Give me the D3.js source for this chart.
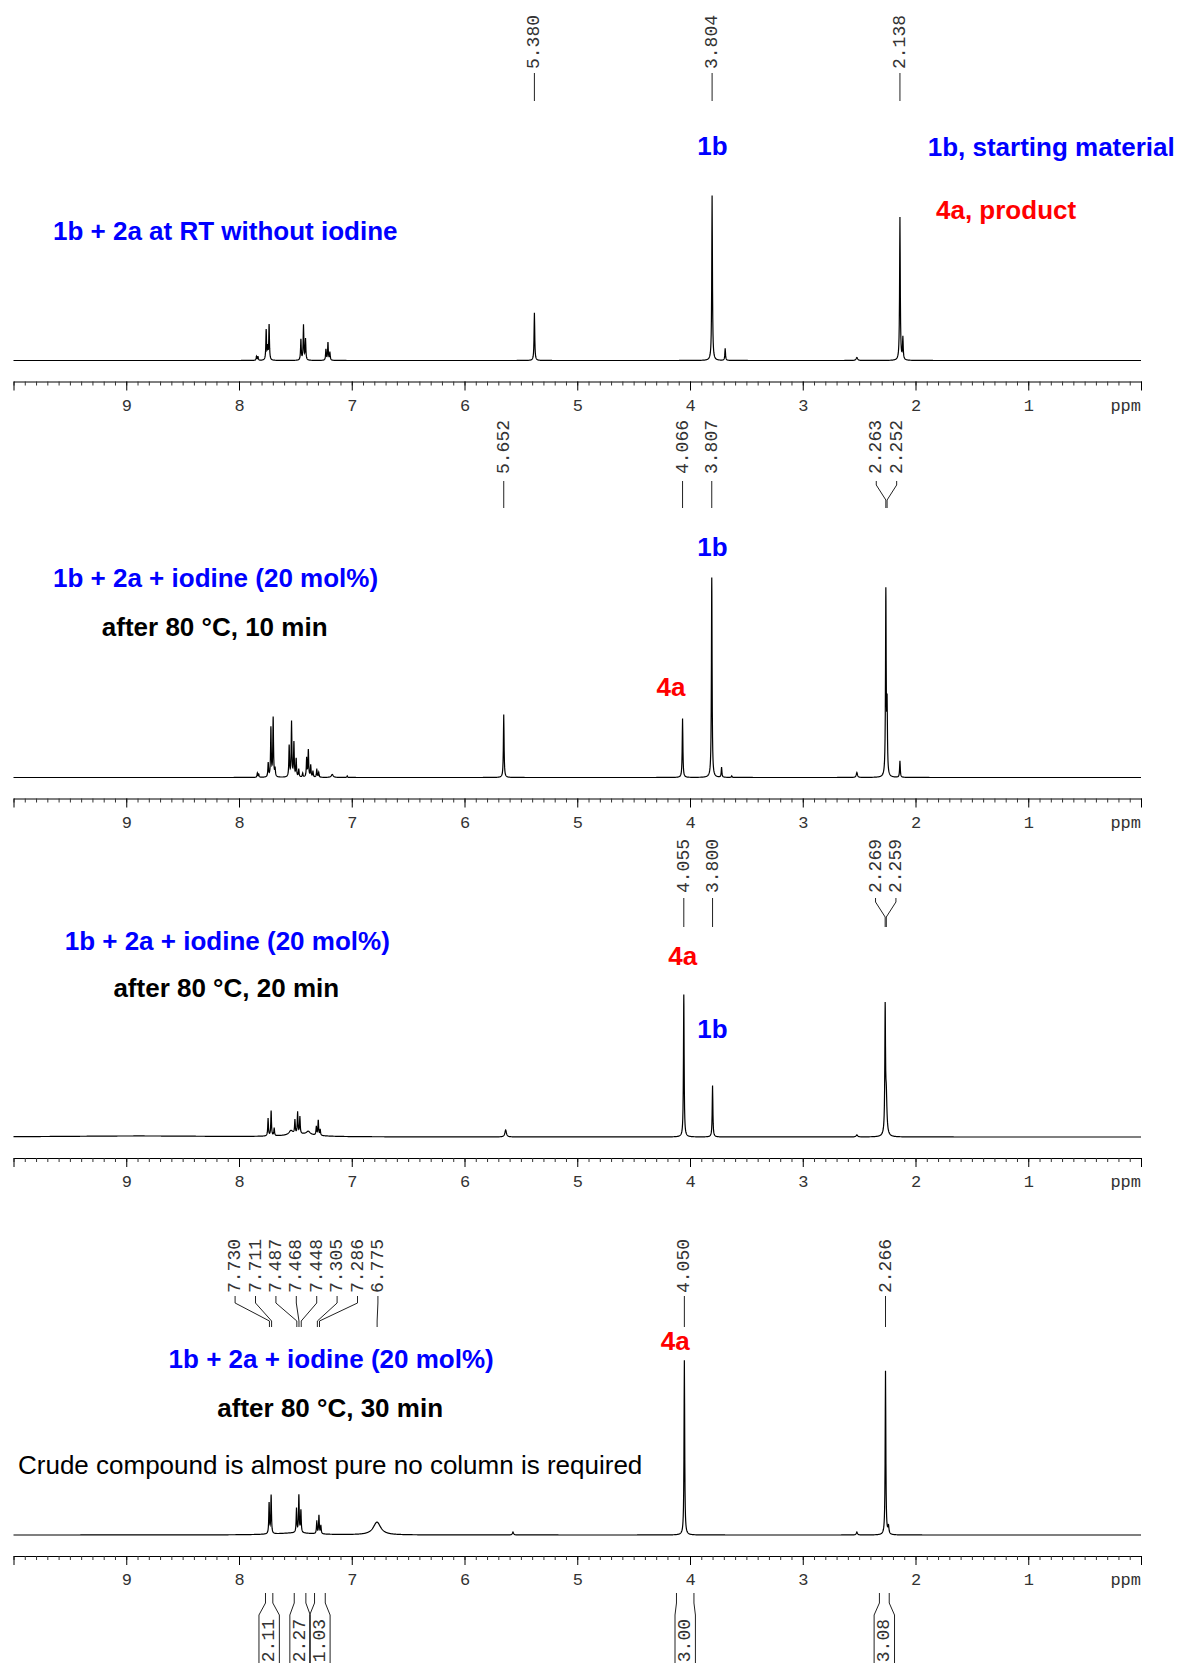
<!DOCTYPE html>
<html>
<head>
<meta charset="utf-8">
<script src="https://cdn.jsdelivr.net/npm/d3@7"></script>
<style>
  body { margin: 0; background: #fff; }
  svg { display: block; }
</style>
</head>
<body>
<script>
// ppm axis
var majorTicks = [0, 1, 2, 3, 4, 5, 6, 7, 8, 9, 10];
var tickLabels = ['', '1', '2', '3', '4', '5', '6', '7', '8', '9', ''];

// peaks: [ppm, height, half width (optional)]
var peaks1 = [
  [7.845, 4], [7.832, 4], [7.759, 30], [7.746, 12], [7.733, 35],
  [7.451, 20.7], [7.428, 35], [7.41, 21],
  [7.229, 11], [7.211, 17.7], [7.194, 8],
  [5.380, 47.7], [3.804, 165], [3.688, 12], [2.52, 3, 0.008],
  [2.138, 143], [2.112, 22.3]
];
var peaks2 = [
  [7.837, 4.3], [7.825, 3], [7.741, 14], [7.717, 49], [7.697, 59], [7.68, 8],
  [7.555, 31], [7.534, 55], [7.513, 34], [7.493, 18], [7.47, 8], [7.435, 4],
  [7.40, 19], [7.385, 27], [7.364, 12], [7.344, 6], [7.31, 8], [7.293, 5],
  [7.173, 3, 0.01], [7.04, 1.5], [5.652, 63], [4.066, 59], [3.807, 200],
  [3.72, 10], [3.63, 1.5], [2.52, 5, 0.006], [2.263, 184], [2.252, 67], [2.138, 16.5]
];
var peaks3 = [
  [8.9, 1, 0.8], [7.45, 2.5, 0.15],
  [7.742, 17.7], [7.715, 25], [7.688, 7.7], [7.539, 4.3, 0.02],
  [7.504, 13.7], [7.48, 21.7], [7.46, 17], [7.386, 3.3, 0.02],
  [7.314, 8.7], [7.297, 15], [7.28, 6], [5.635, 7, 0.008],
  [4.055, 142.5], [3.800, 51.4], [2.52, 2, 0.008],
  [2.269, 119.6], [2.259, 30, 0.006], [2.262, 10, 0.012]
];
var peaks4 = [
  [7.5, 2, 0.2], [7.733, 30.7], [7.715, 38.3], [7.49, 24.3], [7.469, 37.3], [7.451, 22.3],
  [7.31, 12.3], [7.291, 18.3], [7.274, 8.3], [6.776, 12.7, 0.04], [5.57, 3, 0.006],
  [4.050, 174.8], [2.52, 3, 0.006], [2.266, 164], [2.24, 8, 0.005]
];

// picked peak labels
var picked1 = [5.380, 3.804, 2.138];
var picked2 = [5.652, 4.066, 3.807, 2.263, 2.252];
var picked3 = [4.055, 3.800, 2.269, 2.259];
var picked4 = [7.730, 7.711, 7.487, 7.468, 7.448, 7.305, 7.286, 6.775, 4.050, 2.266];

// integrals of the last trace
var integFrom = [7.765, 7.51, 7.33, 4.12, 2.32];
var integTo = [7.70, 7.407, 7.235, 3.965, 2.233];
var integValues = ['2.11', '2.27', '1.03', '3.00', '3.08'];

var titles = ['1b + 2a at RT without iodine', '1b + 2a + iodine (20 mol%)',
  '1b + 2a + iodine (20 mol%)', '1b + 2a + iodine (20 mol%)'];
var conditions = ['', 'after 80 °C, 10 min', 'after 80 °C, 20 min', 'after 80 °C, 30 min'];
var note = 'Crude compound is almost pure no column is required';

var width = 1180, height = 1663;
var blue = '#0000ff', red = '#ff0000';

var svg = d3.select('body').append('svg')
  .attr('width', width)
  .attr('height', height);

var x = d3.scaleLinear().domain([10, 0]).range([13.5, 1141]);

var panels = [
  { peaks: peaks1, picked: picked1, base: 360.5, labelBottom: 69, conn: [73, 77, 93, 101] },
  { peaks: peaks2, picked: picked2, base: 777.5, labelBottom: 474, conn: [481, 485, 500, 508] },
  { peaks: peaks3, picked: picked3, base: 1137, labelBottom: 893, conn: [898, 902, 917, 927] },
  { peaks: peaks4, picked: picked4, base: 1535, labelBottom: 1293, conn: [1296, 1303, 1321, 1327] }
];

// lorentzian line shape for each read peak
function spectrum(peaks) {
  var pts = d3.range(0, 5001).map(function(i) { return 10 - i * 0.002; });
  peaks.forEach(function(p) { pts.push(p[0]); });
  pts.sort(function(a, b) { return b - a; });
  return pts.map(function(v) {
    var s = d3.sum(peaks, function(p) {
      var w = p[2] || 0.0035;
      return p[1] * w * w / ((v - p[0]) * (v - p[0]) + w * w);
    });
    return [v, s];
  });
}

// spread crowded labels into even spacing
function spreadLabels(xs, gap) {
  var groups = xs.map(function(v) { return [v]; });
  function pos(g) {
    var m = d3.mean(g), n = g.length;
    return g.map(function(_, i) { return m + (i - (n - 1) / 2) * gap; });
  }
  var changed = true;
  while (changed) {
    changed = false;
    for (var i = 0; i < groups.length - 1; i++) {
      var a = pos(groups[i]), b = pos(groups[i + 1]);
      if (b[0] - a[a.length - 1] < gap) {
        groups[i] = groups[i].concat(groups[i + 1]);
        groups.splice(i + 1, 1);
        changed = true;
        break;
      }
    }
  }
  return [].concat.apply([], groups.map(pos));
}

panels.forEach(function(p) {
  var y = d3.scaleLinear().domain([0, 200]).range([p.base, p.base - 200]);
  var line = d3.line()
    .x(function(d) { return x(d[0]); })
    .y(function(d) { return y(d[1]); });

  svg.append('path')
    .datum(spectrum(p.peaks))
    .attr('fill', 'none')
    .attr('stroke', '#000')
    .attr('stroke-width', 1.2)
    .attr('d', line);

  // axis
  var axisY = p.base + 21;
  var minor = svg.append('g')
    .attr('transform', 'translate(0,' + axisY + ')')
    .call(d3.axisBottom(x)
      .tickValues(d3.range(0, 101).map(function(i) { return i / 10; }))
      .tickSize(4).tickSizeOuter(0).tickFormat(''));
  minor.select('.domain').attr('stroke', '#000');
  minor.selectAll('.tick line').attr('stroke', '#333');

  var major = svg.append('g')
    .attr('transform', 'translate(0,' + axisY + ')')
    .call(d3.axisBottom(x)
      .tickValues(majorTicks)
      .tickSize(9).tickSizeOuter(0).tickPadding(8)
      .tickFormat(function(d, i) { return tickLabels[i]; }));
  major.select('.domain').remove();
  major.selectAll('.tick line').attr('stroke', '#000');
  major.selectAll('text')
    .attr('font-family', '"Liberation Mono", "Courier New", monospace')
    .attr('font-size', 17)
    .attr('fill', '#333');
  major.append('text')
    .attr('x', x(0))
    .attr('y', 17)
    .attr('dy', '0.71em')
    .attr('text-anchor', 'end')
    .attr('font-family', '"Liberation Mono", "Courier New", monospace')
    .attr('font-size', 17)
    .attr('fill', '#333')
    .text('ppm');

  // peak pick labels
  var peakX = p.picked.map(function(v) { return x(v); }).sort(function(a, b) { return a - b; });
  var sortedPpm = p.picked.slice().sort(function(a, b) { return b - a; });
  var labX = spreadLabels(peakX, 20.4);
  var c = p.conn;
  sortedPpm.forEach(function(v, i) {
    var px = peakX[i], lx = labX[i];
    svg.append('text')
      .attr('transform', 'translate(' + lx + ',' + p.labelBottom + ') rotate(-90)')
      .attr('dominant-baseline', 'central')
      .attr('font-family', '"Liberation Mono", "Courier New", monospace')
      .attr('font-size', 18)
      .attr('fill', '#333')
      .text(v.toFixed(3));
    svg.append('path')
      .attr('d', 'M' + lx + ',' + c[0] + 'V' + c[1] + 'L' + px + ',' + c[2] + 'V' + c[3])
      .attr('fill', 'none')
      .attr('stroke', '#222')
      .attr('stroke-width', 1);
  });
});

// integrals
var intTop = 1593, intBend = 1603, intBox = 1615;
integValues.forEach(function(v, i) {
  var x1 = x(integFrom[i]), x2 = x(integTo[i]);
  var cx = (x1 + x2) / 2;
  var bl = cx - 10.2, br = cx + 10.2;
  svg.append('path')
    .attr('d', 'M' + x1 + ',' + intTop + 'V' + intBend + 'L' + bl + ',' + intBox + 'V' + (height + 5) +
      'M' + x2 + ',' + intTop + 'V' + intBend + 'L' + br + ',' + intBox + 'V' + (height + 5))
    .attr('fill', 'none')
    .attr('stroke', '#222')
    .attr('stroke-width', 1);
  svg.append('text')
    .attr('transform', 'translate(' + cx + ',' + (intBox + 4) + ') rotate(-90)')
    .attr('text-anchor', 'end')
    .attr('dominant-baseline', 'central')
    .attr('font-family', '"Liberation Mono", "Courier New", monospace')
    .attr('font-size', 18)
    .attr('fill', '#333')
    .text(v);
});

// annotations
var notes = [
  ['1b', 712.5, 155, blue, 'middle', 'bold'],
  ['1b, starting material', 927.7, 155.5, blue, 'start', 'bold'],
  ['4a, product', 936, 219, red, 'start', 'bold'],
  [titles[0], 53, 239.5, blue, 'start', 'bold'],
  ['1b', 712.5, 556, blue, 'middle', 'bold'],
  [titles[1], 53, 587, blue, 'start', 'bold'],
  [conditions[1], 101.8, 636, '#000', 'start', 'bold'],
  ['4a', 671, 696, red, 'middle', 'bold'],
  [titles[2], 64.7, 949.5, blue, 'start', 'bold'],
  [conditions[2], 113.4, 997, '#000', 'start', 'bold'],
  ['4a', 682.8, 964.5, red, 'middle', 'bold'],
  ['1b', 712.5, 1037.5, blue, 'middle', 'bold'],
  ['4a', 675.3, 1350, red, 'middle', 'bold'],
  [titles[3], 168.6, 1368, blue, 'start', 'bold'],
  [conditions[3], 217.3, 1417, '#000', 'start', 'bold'],
  [note, 18, 1474, '#000', 'start', 'normal']
];
svg.selectAll('.note')
  .data(notes)
  .enter().append('text')
  .attr('class', 'note')
  .attr('x', function(d) { return d[1]; })
  .attr('y', function(d) { return d[2]; })
  .attr('fill', function(d) { return d[3]; })
  .attr('text-anchor', function(d) { return d[4]; })
  .attr('font-weight', function(d) { return d[5]; })
  .attr('font-family', '"Liberation Sans", Arial, sans-serif')
  .attr('font-size', 26)
  .text(function(d) { return d[0]; });
</script>
</body>
</html>
